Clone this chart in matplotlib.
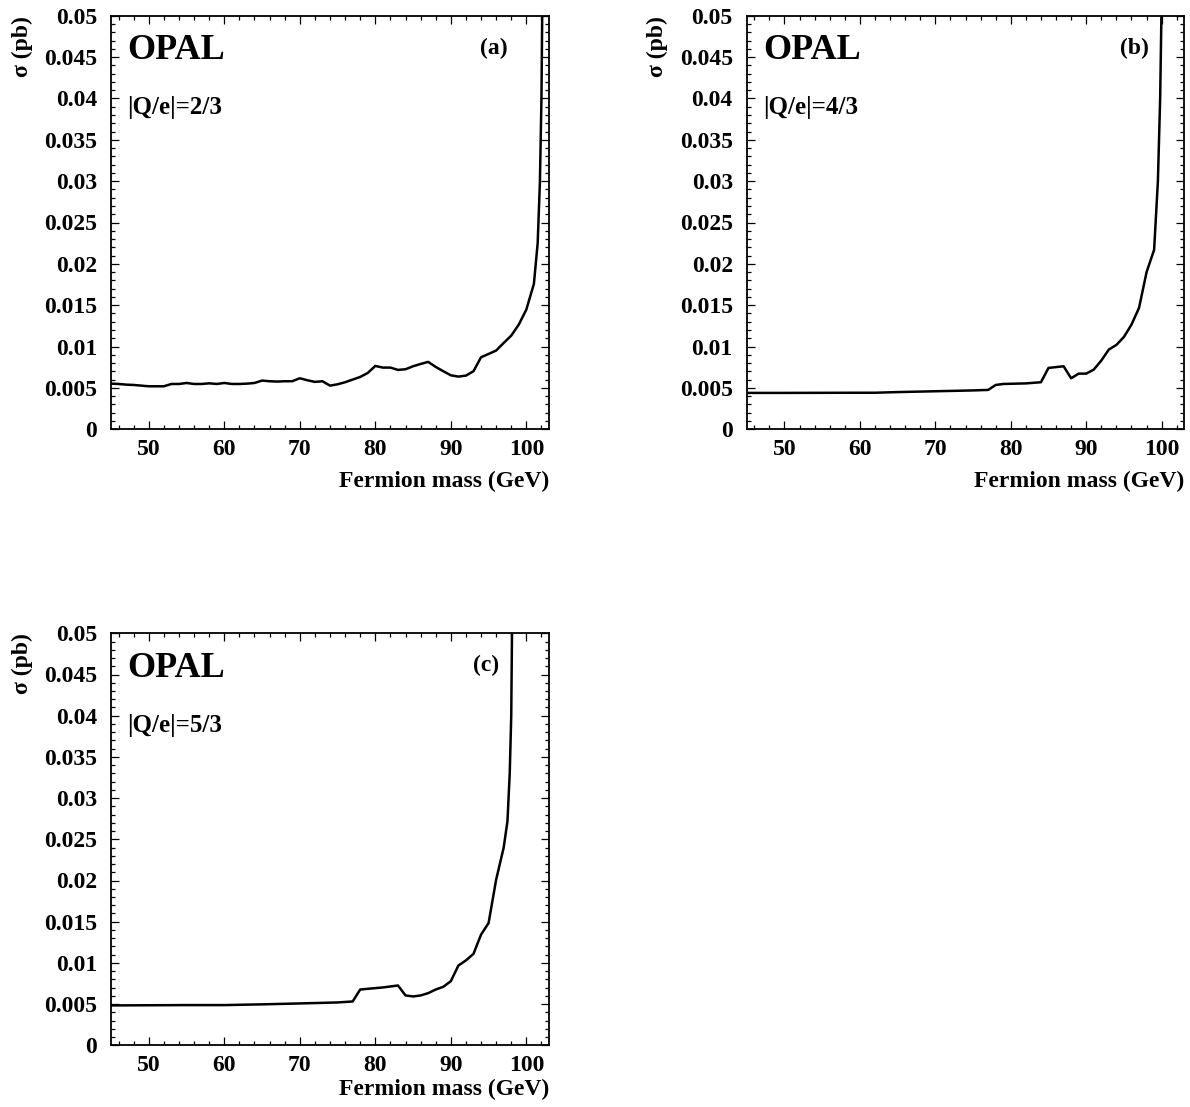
import matplotlib
matplotlib.use("Agg")
import matplotlib.pyplot as plt
from matplotlib.ticker import MultipleLocator, FixedLocator

plt.rcParams['font.family'] = ['Liberation Serif', 'DejaVu Serif']
plt.rcParams['font.weight'] = 'bold'

# ---------------- data ----------------
mass_a = [45, 46, 47, 48, 49, 50, 51, 52, 53, 54, 55, 56, 57, 58, 59, 60, 61, 62, 63, 64,
          65, 66, 67, 68, 69, 70, 71, 72, 73, 74, 75, 76, 77, 78, 79, 80, 81, 82, 83, 84,
          85, 86, 87, 88, 89, 90, 91, 92, 93, 94, 95, 96, 97, 98, 99, 100, 101,
          101.5, 101.8, 102.0, 102.15]
sigma_a = [0.00552, 0.00548, 0.00540, 0.00536, 0.00528, 0.00520, 0.00520, 0.00520, 0.00548, 0.00548,
           0.00560, 0.00548, 0.00548, 0.00556, 0.00548, 0.00560, 0.00548, 0.00548, 0.00552, 0.00560,
           0.00589, 0.00581, 0.00577, 0.00581, 0.00581, 0.00617, 0.00593, 0.00573, 0.00581, 0.00528,
           0.00544, 0.00569, 0.00601, 0.00633, 0.00681, 0.00766, 0.00746, 0.00746, 0.00718, 0.00726,
           0.00762, 0.00790, 0.00815, 0.00754, 0.00702, 0.00653, 0.00637, 0.00649, 0.00702, 0.00871,
           0.00911, 0.00952, 0.01044, 0.01133, 0.01266, 0.01448, 0.01758,
           0.0225, 0.0300, 0.0400, 0.0550]

mass_b = [45, 50, 55, 60, 62, 65, 70, 75, 77, 78, 79, 82, 84, 85, 87, 88, 89, 90, 91, 92,
          93, 94, 95, 96, 97, 98, 99, 99.5, 99.8, 100.05]
sigma_b = [0.00440, 0.00440, 0.00441, 0.00442, 0.00442, 0.00450, 0.00460, 0.00470, 0.00476, 0.00536,
           0.00548, 0.00555, 0.00569, 0.00742, 0.00762, 0.00617, 0.00673, 0.00673, 0.00722, 0.00831,
           0.00964, 0.01020, 0.01117, 0.01266, 0.01468, 0.01900, 0.02170, 0.0300, 0.0400, 0.0550]

mass_c = [45, 50, 55, 60, 65, 70, 75, 77, 78, 80, 81, 83, 84, 85, 86, 87, 88, 89, 90, 91,
          92, 93, 94, 95, 96, 97, 97.5, 97.8, 98.0, 98.15]
sigma_c = [0.00484, 0.00486, 0.00488, 0.00488, 0.00497, 0.00508, 0.00520, 0.00532, 0.00677, 0.00694,
           0.00702, 0.00726, 0.00605, 0.00593, 0.00605, 0.00633, 0.00677, 0.00710, 0.00778, 0.00968,
           0.01030, 0.01110, 0.01343, 0.01484, 0.02010, 0.02400, 0.02720, 0.0330, 0.0400, 0.0550]

charges = ["|Q/e|=2/3", "|Q/e|=4/3", "|Q/e|=5/3"]
panel_tags = ["(a)", "(b)", "(c)"]
y_ticks = [0, 0.005, 0.01, 0.015, 0.02, 0.025, 0.03, 0.035, 0.04, 0.045, 0.05]
y_tick_labels = ["0", "0.005", "0.01", "0.015", "0.02", "0.025", "0.03", "0.035", "0.04", "0.045", "0.05"]
x_ticks = [50, 60, 70, 80, 90, 100]
x_label = "Fermion mass (GeV)"
y_label = "\u03c3 (pb)"

# ---------------- layout ----------------
W, H = 1190, 1107
fig = plt.figure(figsize=(W / 100, H / 100), dpi=100)

def rect(l, r, t, b):
    return [l / W, 1 - b / H, (r - l) / W, (b - t) / H]

axes_rects = [rect(111, 549, 15.7, 429.3),
              rect(746.7, 1184.3, 15.7, 429.3),
              rect(111, 549, 633.3, 1045.3)]
tag_x = [0.905, 0.92, 0.885]
xlabel_y = [-0.127, -0.127, -0.107]

series = [(mass_a, sigma_a), (mass_b, sigma_b), (mass_c, sigma_c)]

for i, (r, (mx, sy)) in enumerate(zip(axes_rects, series)):
    ax = fig.add_axes(r)
    ax.plot(mx, sy, color='black', lw=1.8, solid_joinstyle='round')
    ax.set_xlim(45, 103)
    ax.set_ylim(0, 0.05)
    ax.yaxis.set_major_locator(FixedLocator(y_ticks))
    ax.set_yticklabels(y_tick_labels)
    ax.yaxis.set_minor_locator(MultipleLocator(0.001))
    ax.xaxis.set_major_locator(FixedLocator(x_ticks))
    ax.set_xticklabels([str(v) for v in x_ticks])
    ax.xaxis.set_minor_locator(MultipleLocator(2))
    ax.tick_params(which='both', direction='in', top=True, right=True, width=0.9)
    ax.tick_params(which='major', length=6)
    ax.tick_params(which='minor', length=3)
    ax.tick_params(axis='y', which='major', pad=10, labelsize=17)
    ax.tick_params(axis='x', which='major', pad=7, labelsize=17)
    for lab in ax.get_xticklabels() + ax.get_yticklabels():
        lab.set_fontweight('bold')
    for s in ax.spines.values():
        s.set_linewidth(1.3)

    ax.text(1.0, xlabel_y[i], x_label, transform=ax.transAxes, ha='right', va='center',
            fontsize=17, fontweight='bold')
    ax.text(-0.203, 1.0, y_label, transform=ax.transAxes, ha='center', va='top',
            rotation=90, fontsize=17, fontweight='bold')
    ax.text(0.037, 0.955, "OPAL", transform=ax.transAxes, ha='left', va='top',
            fontsize=26, fontweight='bold')
    ax.text(tag_x[i], 0.922, panel_tags[i], transform=ax.transAxes, ha='right', va='center',
            fontsize=17, fontweight='bold')
    ax.text(0.037, 0.777, charges[i], transform=ax.transAxes, ha='left', va='center',
            fontsize=18, fontweight='bold')

fig.savefig("out.png", dpi=100)
